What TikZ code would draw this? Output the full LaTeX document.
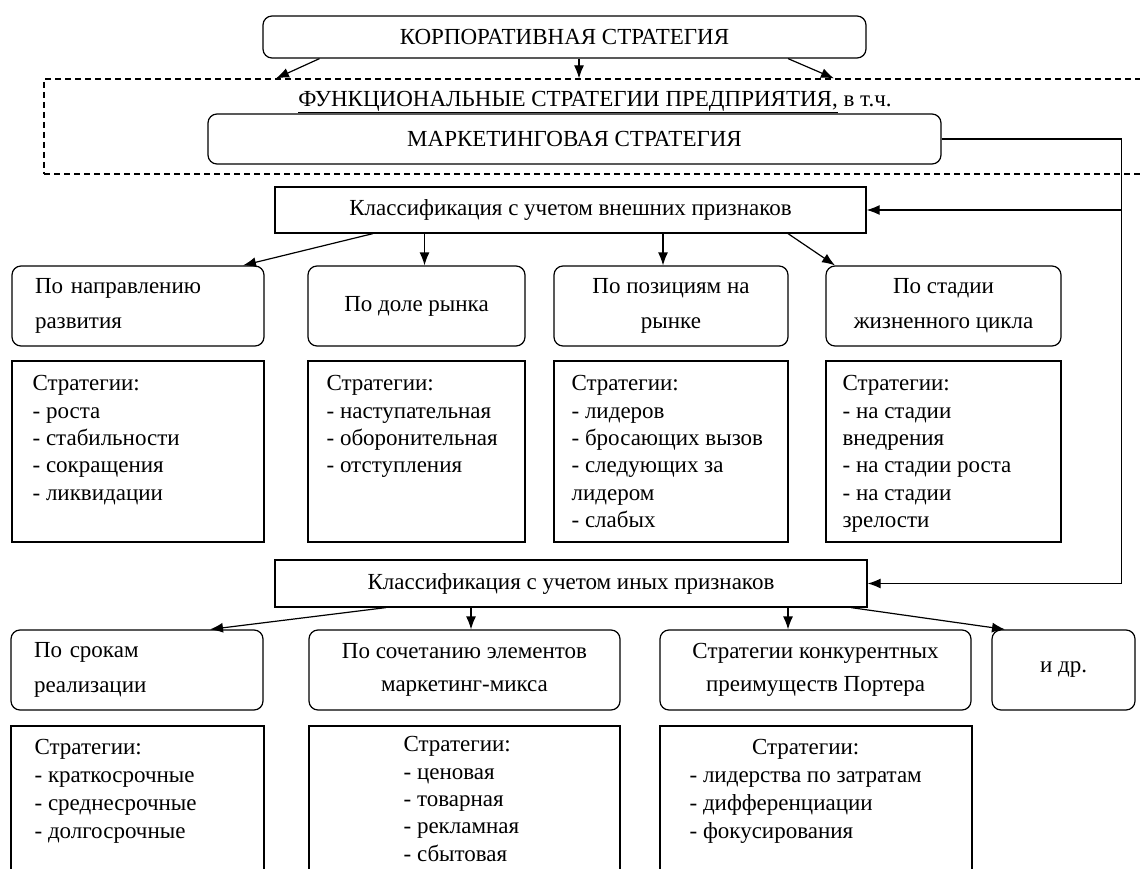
\documentclass[tikz,border=0pt]{standalone}
\usepackage{fontspec}
\setmainfont{Liberation Serif}
\usepackage{tikz}
\usetikzlibrary{arrows.meta}
\newcommand{\drawarrow}{\draw[-{Latex[length=13pt,width=10pt]},line width=1.2pt]}
\newcommand{\drawline}{\draw[line width=1.2pt]}
\tikzset{
  roundbox/.style={draw,line width=1.2pt,rounded corners=9pt,inner sep=0pt,
    font=\fontsize{23pt}{35pt}\selectfont,align=center},
  squarebox/.style={draw,line width=1.2pt,inner sep=0pt,
    font=\fontsize{23pt}{27pt}\selectfont},
  framebox/.style={draw,line width=1.2pt,dash pattern=on 6pt off 4pt,inner sep=0pt},
  listtext/.style={font=\fontsize{23pt}{27.3pt}\selectfont,align=left,inner sep=0pt,anchor=north west},
  listtextb/.style={listtext,font=\fontsize{23pt}{28pt}\selectfont},
}

\begin{document}
\begin{tikzpicture}[x=1pt,y=-1pt]
\useasboundingbox (0,0) rectangle (1140,869);
\clip (0,0) rectangle (1140,869);
% top part
\node[roundbox,minimum width=603pt,minimum height=42pt] (corp) at (564.5,37) {КОРПОРАТИВНАЯ СТРАТЕГИЯ};
\node[framebox,minimum width=1116pt,minimum height=95pt] (func) at (602,126.5) {};
\node[inner sep=0pt,font=\fontsize{23pt}{27pt}\selectfont] (functext) at (595,102) {\underline{ФУНКЦИОНАЛЬНЫЕ СТРАТЕГИИ ПРЕДПРИЯТИЯ,} в т.ч.};
\node[roundbox,minimum width=733pt,minimum height=50pt] (mark) at (574.5,139) {МАРКЕТИНГОВАЯ СТРАТЕГИЯ};
\drawarrow ([xshift=-245pt]corp.south) -- ([xshift=-326pt]func.north);
\drawarrow ([xshift=14.5pt]corp.south) -- ([xshift=-23pt]func.north);
\drawarrow ([xshift=223.5pt]corp.south) -- ([xshift=232pt]func.north);
% external features
\node[squarebox,minimum width=591pt,minimum height=46pt] (class1) at (570.5,210) {Классификация с учетом внешних признаков};
\node[roundbox,minimum width=252pt,minimum height=80pt,text width=206pt,align=left] (r1a) at (138,306) {По направлению\\развития};
\node[roundbox,minimum width=217pt,minimum height=80pt] (r1b) at (416.5,306) {По доле рынка};
\node[roundbox,minimum width=234pt,minimum height=80pt] (r1c) at (671,306) {По позициям на\\рынке};
\node[roundbox,minimum width=235pt,minimum height=80pt] (r1d) at (943.5,306) {По стадии\\жизненного цикла};
\drawarrow ([xshift=-197.5pt]class1.south) -- ([xshift=105pt]r1a.north);
\drawarrow ([xshift=-146pt]class1.south) -- ([xshift=8pt]r1b.north);
\drawarrow ([xshift=92.5pt]class1.south) -- ([xshift=-8pt]r1c.north);
\drawarrow ([xshift=217.5pt]class1.south) -- ([xshift=-108.5pt]r1d.north);
\node[squarebox,minimum width=252pt,minimum height=181pt] (r2a) at (138,451.5) {};
\node[squarebox,minimum width=217pt,minimum height=181pt] (r2b) at (416.5,451.5) {};
\node[squarebox,minimum width=234pt,minimum height=181pt] (r2c) at (671,451.5) {};
\node[squarebox,minimum width=235pt,minimum height=181pt] (r2d) at (943.5,451.5) {};
\node[listtext] (t2a) at ([shift={(21,15)}]r2a.north west) {Стратегии:\\- роста\\- стабильности\\- сокращения\\- ликвидации};
\node[listtext] (t2b) at ([shift={(19,15)}]r2b.north west) {Стратегии:\\- наступательная\\- оборонительная\\- отступления};
\node[listtext] (t2c) at ([shift={(18,15)}]r2c.north west) {Стратегии:\\- лидеров\\- бросающих вызов\\- следующих за\\лидером\\- слабых};
\node[listtext] (t2d) at ([shift={(17,15)}]r2d.north west) {Стратегии:\\- на стадии\\внедрения\\- на стадии роста\\- на стадии\\зрелости};
% other features
\node[squarebox,minimum width=592pt,minimum height=47pt] (class2) at (571,583.5) {Классификация с учетом иных признаков};
\drawline (mark.east) -- ++(180,0) coordinate (rail) -- ++(0,441);
\drawarrow (rail) |- (class1.east);
\drawarrow (rail) |- (class2.east);
\node[roundbox,minimum width=252pt,minimum height=80pt,text width=206pt,align=left] (r3a) at (137,670) {По срокам\\реализации};
\node[roundbox,minimum width=311pt,minimum height=80pt,font=\fontsize{23pt}{33pt}\selectfont] (r3b) at (464.5,670) {По сочетанию элементов\\маркетинг-микса};
\node[roundbox,minimum width=311pt,minimum height=80pt,font=\fontsize{23pt}{33pt}\selectfont] (r3c) at (815.5,670) {Стратегии конкурентных\\преимуществ Портера};
\node[roundbox,minimum width=143pt,minimum height=80pt] (r3d) at (1063.5,670) {и др.};
\drawarrow ([xshift=-185pt]class2.south) -- ([xshift=73pt]r3a.north);
\drawarrow ([xshift=-100pt]class2.south) -- ([xshift=6.5pt]r3b.north);
\drawarrow ([xshift=217pt]class2.south) -- ([xshift=-27.5pt]r3c.north);
\drawarrow ([xshift=280pt]class2.south) -- ([xshift=-58.5pt]r3d.north);
\node[squarebox,minimum width=253pt,minimum height=200pt] (r4a) at (137.5,826) {};
\node[squarebox,minimum width=311pt,minimum height=200pt] (r4b) at (464.5,826) {};
\node[squarebox,minimum width=312pt,minimum height=200pt] (r4c) at (816,826) {};
\node[listtextb] (t4a) at ([shift={(24,14)}]r4a.north west) {Стратегии:\\- краткосрочные\\- среднесрочные\\- долгосрочные};
\node[listtext] (t4b) at ([shift={(95,11)}]r4b.north west) {Стратегии:\\- ценовая\\- товарная\\- рекламная\\- сбытовая};
\node[listtextb] (t4c) at ([shift={(30,9)}]r4c.north west) {\begin{tabular}{@{}l@{}}\multicolumn{1}{@{}c@{}}{Стратегии:}\\- лидерства по затратам\\- дифференциации\\- фокусирования\end{tabular}};
\end{tikzpicture}
\end{document}
